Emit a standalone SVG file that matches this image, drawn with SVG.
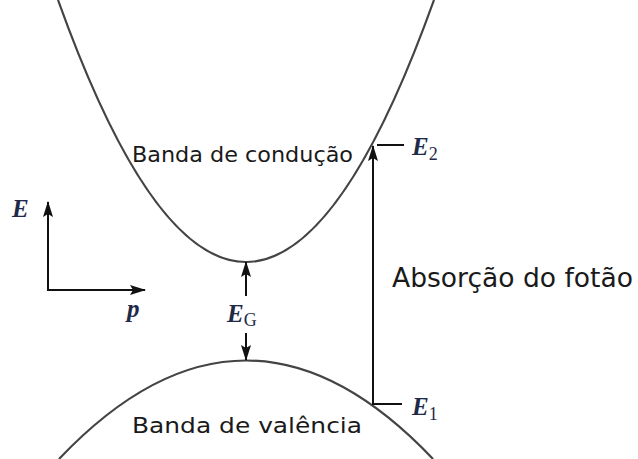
<svg xmlns="http://www.w3.org/2000/svg" width="638" height="459" viewBox="0 0 638 459">
<defs>
<marker id="ah" viewBox="0 0 16 10" refX="15" refY="5" markerWidth="16" markerHeight="10" markerUnits="userSpaceOnUse" orient="auto">
<path d="M0,0 L16,5 L0,10 L3,5 Z" fill="#111"/>
</marker>
<style>
.curve{fill:none;stroke:#444;stroke-width:2.2}
.ln{fill:none;stroke:#111;stroke-width:2}
.lbl{font-family:"DejaVu Sans",sans-serif;font-size:22px;fill:#1a1a1a}
.big{font-size:26px}
.sym{font-family:"Liberation Serif",serif;font-style:italic;font-weight:bold;font-size:25px;fill:#1f2a48}
.sub{font-family:"Liberation Serif",serif;font-style:normal;font-weight:normal;font-size:18px;fill:#1f2a48}
</style>
</defs>
<rect width="638" height="459" fill="#fff"/>
<g id="conduction-band">
<path class="curve" d="M58,0 Q246,524 434,0"/>
<text class="lbl" x="132" y="162" textLength="221" lengthAdjust="spacingAndGlyphs">Banda de condução</text>
</g>
<g id="valence-band">
<path class="curve" d="M59,459 Q246,262 433,459"/>
<text class="lbl" x="132" y="433" textLength="230" lengthAdjust="spacingAndGlyphs">Banda de valência</text>
</g>
<g id="axes">
<text class="sym" x="12" y="217">E</text>
<text class="sym" x="127" y="317">p</text>
</g>
<g id="gap">
<text class="sym" x="227" y="322">E<tspan class="sub" dy="4">G</tspan></text>
</g>
<g id="E2">
<text class="sym" x="412" y="155">E<tspan class="sub" dy="5">2</tspan></text>
</g>
<g id="E1">
<text class="sym" x="412" y="415">E<tspan class="sub" dy="5">1</tspan></text>
</g>
<g id="absorption">
<text class="lbl big" x="392" y="287" textLength="241" lengthAdjust="spacingAndGlyphs">Absorção do fotão</text>
</g>
<g id="connectors">
<line class="ln" x1="48" y1="290" x2="48" y2="202" marker-end="url(#ah)"/>
<line class="ln" x1="47" y1="290" x2="145" y2="290" marker-end="url(#ah)"/>
<line class="ln" x1="246" y1="296" x2="246" y2="262" marker-end="url(#ah)"/>
<line class="ln" x1="246" y1="333" x2="246" y2="360" marker-end="url(#ah)"/>
<line class="ln" x1="373" y1="404" x2="373" y2="146" marker-end="url(#ah)"/>
<line class="ln" x1="372" y1="404" x2="402" y2="404"/>
<line class="ln" x1="377" y1="145" x2="404" y2="145"/>
</g>
</svg>
